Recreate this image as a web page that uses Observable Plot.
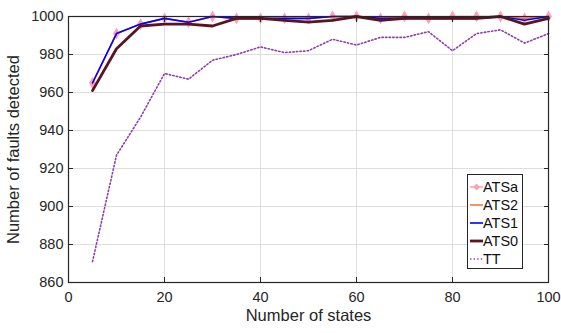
<!DOCTYPE html>
<html>
<head>
<meta charset="utf-8">
<script src="https://cdn.jsdelivr.net/npm/d3@7"></script>
<script src="https://cdn.jsdelivr.net/npm/@observablehq/plot@0.6"></script>
<style>
  html, body { margin: 0; padding: 0; background: #fff; }
  #wrap { position: relative; width: 561px; height: 333px; font-family: "Liberation Sans", Arial, Helvetica, sans-serif; }
  #legend { position: absolute; left: 467px; top: 174px; width: 54px; height: 93px; border: 1px solid #262626; background: #fff; box-sizing: content-box; }
  .row { position: absolute; left: 0; height: 18px; display: flex; align-items: center; font-size: 14.5px; color: #111; }
</style>
</head>
<body>
<div id="wrap"></div>
<script>
const states = [5,10,15,20,25,30,35,40,45,50,55,60,65,70,75,80,85,90,95,100];
const ATSa = [965,991,996,999,997,1000,999,999,999,999,1000,1000,999,1000,999,1000,1000,1000,999,1000];
const ATS2 = [965,991,996,999,997,1000,999,999,999,999,1000,1000,999,1000,999,999,999,1000,999,1000];
const ATS1 = [965,991,996,999,997,1000,999,999,999,999,1000,1000,999,999,999,999,999,1000,998,1000];
const ATS0 = [961,983,995,996,996,995,999,999,998,997,998,1000,998,999,999,999,999,1000,996,999];
const TT   = [871,927,947,970,967,977,980,984,981,982,988,985,989,989,992,982,991,993,986,991];
const xTicks = [0,20,40,60,80,100];
const yTicks = [860,880,900,920,940,960,980,1000];
const xLabel = "Number of states";
const yLabel = "Number of faults detected";

const seriesNames = ["ATSa","ATS2","ATS1","ATS0","TT"];
const seriesValues = [ATSa, ATS2, ATS1, ATS0, TT];
const styles = {
  ATSa: {stroke: "#ff9fb6", strokeWidth: 1.5},
  ATS2: {stroke: "#ff6a33", strokeWidth: 1.5},
  ATS1: {stroke: "#0000ff", strokeWidth: 1.6},
  ATS0: {stroke: "#581520", strokeWidth: 2.8},
  TT:   {stroke: "#8e3fae", strokeWidth: 1.6, strokeDasharray: "1.4 2.2"}
};
const table = seriesNames.map((name, i) => states.map((s, j) => ({state: s, value: seriesValues[i][j], series: name})));

const axisColor = "#262626";
const marks = [
  Plot.gridX(xTicks, {stroke: "#dedede", strokeOpacity: 1, strokeWidth: 1}),
  Plot.gridY(yTicks, {stroke: "#dedede", strokeOpacity: 1, strokeWidth: 1}),
];
seriesNames.forEach((name, i) => {
  marks.push(Plot.line(table[i], {x: "state", y: "value", ...styles[name]}));
  if (name === "ATSa") {
    marks.push(Plot.dot(table[i], {x: "state", y: "value", symbol: "diamond", r: 3.6, fill: "#ff9fb6", stroke: "none"}));
  }
});
marks.push(
  Plot.frame({stroke: axisColor, strokeWidth: 1.2}),
  Plot.axisX(xTicks, {anchor: "bottom", tickSize: -5, text: null, stroke: axisColor, label: null}),
  Plot.axisX(xTicks, {anchor: "top", tickSize: -5, text: null, stroke: axisColor, label: null}),
  Plot.axisY(yTicks, {anchor: "left", tickSize: -5, text: null, stroke: axisColor, label: null}),
  Plot.axisY(yTicks, {anchor: "right", tickSize: -5, text: null, stroke: axisColor, label: null}),
  Plot.axisX(xTicks, {anchor: "bottom", tickSize: 0, tickPadding: 9, fontSize: 14.5, fill: axisColor, tickFormat: "d", label: null}),
  Plot.axisY(yTicks, {anchor: "left", tickSize: 0, tickPadding: 5, fontSize: 14.5, fill: axisColor, tickFormat: "d", label: null}),
  Plot.text([xLabel], {text: d => d, frameAnchor: "bottom", dy: 38, fontSize: 16.5, fill: axisColor}),
  Plot.text([yLabel], {text: d => d, frameAnchor: "left", dx: -55, rotate: -90, textAnchor: "middle", fontSize: 16.5, fill: axisColor})
);

const chart = Plot.plot({
  width: 561,
  height: 333,
  marginLeft: 68,
  marginRight: 13,
  marginTop: 16,
  marginBottom: 51,
  style: {fontFamily: '"Liberation Sans", Arial, Helvetica, sans-serif', fontSize: "14.5px", color: axisColor, background: "#fff", overflow: "visible"},
  x: {domain: [0, 100]},
  y: {domain: [860, 1000]},
  marks
});
const wrap = document.getElementById("wrap");
wrap.appendChild(chart);

// legend
const legend = document.createElement("div");
legend.id = "legend";
seriesNames.forEach((name, i) => {
  const row = document.createElement("div");
  row.className = "row";
  row.style.top = (3 + i * 18) + "px";
  const st = styles[name];
  const ns = "http://www.w3.org/2000/svg";
  const svg = document.createElementNS(ns, "svg");
  svg.setAttribute("width", 15); svg.setAttribute("height", 10);
  const ln = document.createElementNS(ns, "line");
  ln.setAttribute("x1", 2); ln.setAttribute("x2", 15); ln.setAttribute("y1", 5); ln.setAttribute("y2", 5);
  ln.setAttribute("stroke", st.stroke); ln.setAttribute("stroke-width", st.strokeWidth);
  if (st.strokeDasharray) ln.setAttribute("stroke-dasharray", st.strokeDasharray);
  svg.appendChild(ln);
  if (name === "ATSa") {
    const p = document.createElementNS(ns, "path");
    p.setAttribute("d", "M8.5,1.5L11.8,5L8.5,8.5L5.2,5Z");
    p.setAttribute("fill", st.stroke);
    svg.appendChild(p);
  }
  row.appendChild(svg);
  const t = document.createElement("span");
  t.textContent = name;
  row.appendChild(t);
  legend.appendChild(row);
});
wrap.appendChild(legend);
</script>
</body>
</html>
